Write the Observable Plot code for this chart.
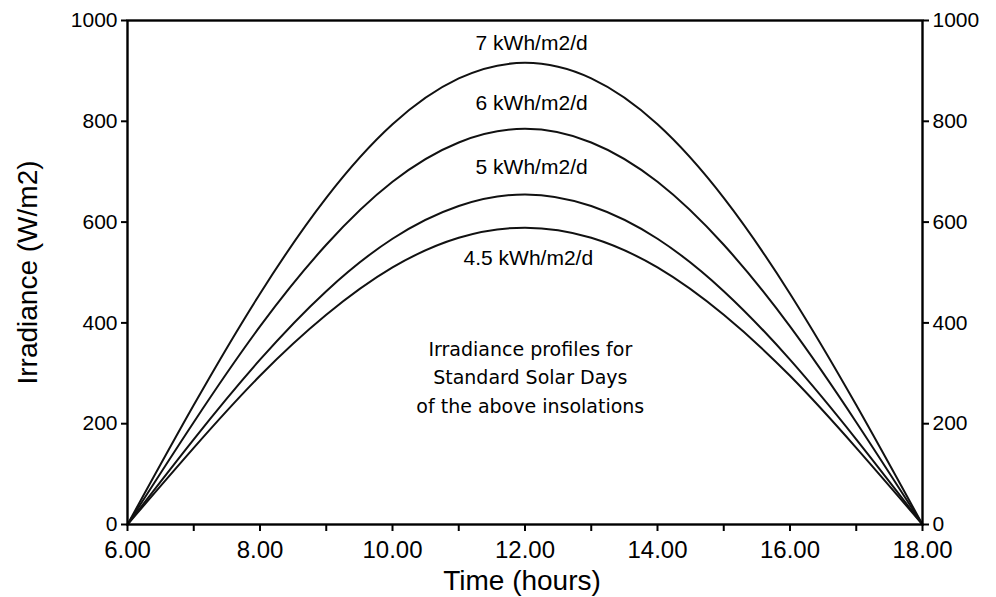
<!DOCTYPE html>
<html>
<head>
<meta charset="utf-8">
<script src="https://cdn.jsdelivr.net/npm/d3@7"></script>
<script src="https://cdn.jsdelivr.net/npm/@observablehq/plot@0.6"></script>
<style>
  html, body { margin: 0; padding: 0; background: white; }
</style>
</head>
<body>
<div id="chart"></div>
<script>
// Hours of the day
const hours = [6, 7, 8, 9, 10, 11, 12, 13, 14, 15, 16, 17, 18];
// Irradiance (W/m2)
const p7  = [0, 237, 458, 648, 794, 885, 916, 885, 794, 648, 458, 237, 0];
const p6  = [0, 203, 393, 555, 680, 758, 785, 758, 680, 555, 393, 203, 0];
const p5  = [0, 169, 327, 463, 567, 632, 655, 632, 567, 463, 327, 169, 0];
const p45 = [0, 152, 295, 416, 510, 569, 589, 569, 510, 416, 295, 152, 0];
const seriesNames = ["7 kWh/m2/d", "6 kWh/m2/d", "5 kWh/m2/d", "4.5 kWh/m2/d"];
const seriesValues = [p7, p6, p5, p45];
// Label positions (data coords)
const labelX = [12.1, 12.1, 12.1, 12.05];
const labelY = [954, 835, 708, 528];
const yTicks = [0, 200, 400, 600, 800, 1000];
const xTicks = hours;
const note = "Irradiance profiles for\nStandard Solar Days\nof the above insolations";

const data = seriesNames.flatMap((name, i) =>
  hours.map((h, j) => ({series: name, hour: h, value: seriesValues[i][j]})));
const labels = seriesNames.map((name, i) => ({text: name, x: labelX[i], y: labelY[i]}));

const chart = Plot.plot({
  width: 996,
  height: 597,
  marginLeft: 127,
  marginRight: 74,
  marginTop: 20,
  marginBottom: 73,
  style: {fontFamily: "'Liberation Sans', Arial, sans-serif", background: "white", color: "black"},
  x: {domain: [6, 18]},
  y: {domain: [0, 1000]},
  marks: [
    Plot.line(data, {x: "hour", y: "value", z: "series", curve: "natural", stroke: "#111", strokeWidth: 2}),
    Plot.frame({stroke: "black", strokeWidth: 2.4}),
    Plot.axisY({anchor: "left", ticks: yTicks, tickSize: 6, tickPadding: 4, fontSize: 21, strokeWidth: 2, label: null, tickFormat: d => String(d)}),
    Plot.axisY({anchor: "right", ticks: yTicks, tickSize: 6, tickPadding: 4, fontSize: 21, strokeWidth: 2, label: null, tickFormat: d => String(d)}),
    Plot.axisX({anchor: "bottom", ticks: xTicks, tickSize: 7, tickPadding: 9, fontSize: 24, strokeWidth: 2, label: null, tickFormat: d => d % 2 === 0 ? d.toFixed(2) : ""}),
    Plot.text(labels, {x: "x", y: "y", text: "text", fontSize: 21, fill: "black"}),
    Plot.text([note], {x: 12.08, y: 296, text: d => d, fontSize: 19, lineHeight: 1.5, fontFamily: "'DejaVu Sans', sans-serif", fill: "black"}),
    Plot.text(["Irradiance (W/m2)"], {frameAnchor: "left", textAnchor: "middle", lineAnchor: "middle", dx: -99, rotate: -90, fontSize: 28, fill: "black"}),
    Plot.text(["Time (hours)"], {frameAnchor: "bottom", textAnchor: "middle", lineAnchor: "middle", dx: -3, dy: 57, fontSize: 28, fill: "black"})
  ]
});
document.getElementById("chart").appendChild(chart);
</script>
</body>
</html>
